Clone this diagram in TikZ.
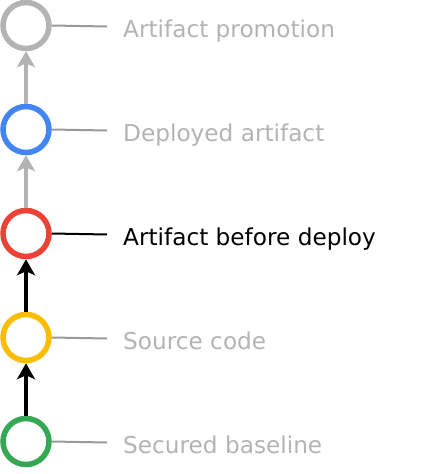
\documentclass[tikz,border=0pt]{standalone}
\usepackage{fontspec}
\setmainfont{DejaVu Sans}
\usetikzlibrary{arrows.meta}
\definecolor{mutedgrey}{HTML}{B3B3B3}
\definecolor{tickgrey}{HTML}{999999}
\definecolor{gblue}{HTML}{4285F4}
\definecolor{gred}{HTML}{EA4335}
\definecolor{gyellow}{HTML}{FBBC04}
\definecolor{ggreen}{HTML}{34A853}
\begin{document}
\begin{tikzpicture}[x=1pt,y=-1pt,
  stage/.style={circle,draw=#1,line width=5.5pt,minimum size=46pt,inner sep=0pt,fill=white},
  tick/.style={line width=2pt,draw=#1},
  flow/.style={line width=3.5pt,draw=#1,-{Stealth[length=16pt,width=18pt,inset=4pt]}},
  lbl/.style={anchor=base west,inner sep=0pt,font=\fontsize{23.2}{26}\selectfont,text=#1}]
  \useasboundingbox (0,0) rectangle (446,474);

  % stages, bottom to top
  \node[stage=mutedgrey] (promo)  at (26,25.5)  {};
  \node[stage=gblue]     (deploy) at (26,129.5) {};
  \node[stage=gred]      (before) at (26,233.5) {};
  \node[stage=gyellow]   (source) at (26,337.5) {};
  \node[stage=ggreen]    (base)   at (26,441.5) {};

  % promotion path
  \draw[flow=black]     (base.north)   -- (source.south);
  \draw[flow=black]     (source.north) -- (before.south);
  \draw[flow=mutedgrey] (before.north) -- (deploy.south);
  \draw[flow=mutedgrey] (deploy.north) -- (promo.south);

  % leader lines
  \coordinate (tpromo)  at (107,26.5);
  \coordinate (tdeploy) at (107,130.5);
  \coordinate (tbefore) at (107,234.5);
  \coordinate (tsource) at (107,338.5);
  \coordinate (tbase)   at (107,442.5);
  \draw[tick=tickgrey] (promo.east)  -- (tpromo);
  \draw[tick=tickgrey] (deploy.east) -- (tdeploy);
  \draw[tick=black]    (before.east) -- (tbefore);
  \draw[tick=tickgrey] (source.east) -- (tsource);
  \draw[tick=tickgrey] (base.east)   -- (tbase);

  % labels
  \node[lbl=mutedgrey] (lpromo)  at (123,37)  {Artifact promotion};
  \node[lbl=mutedgrey] (ldeploy) at (123,141) {Deployed artifact};
  \node[lbl=black]     (lbefore) at (123,245) {Artifact before deploy};
  \node[lbl=mutedgrey] (lsource) at (123,349) {Source code};
  \node[lbl=mutedgrey] (lbase)   at (123,453) {Secured baseline};
\end{tikzpicture}
\end{document}
